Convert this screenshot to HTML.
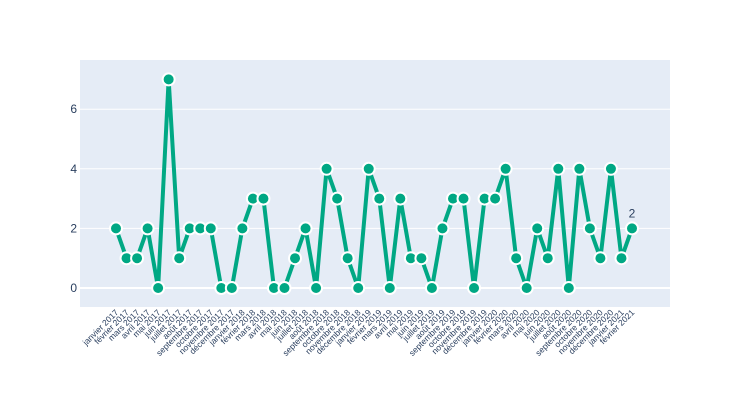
<!DOCTYPE html>
<html><head><meta charset="utf-8"><style>body{margin:0;background:#fff}svg{display:block;font-family:"Liberation Sans",sans-serif}</style></head>
<body>
<svg id="chart" width="750" height="400" xmlns="http://www.w3.org/2000/svg">
<rect x="80" y="60" width="590" height="247" fill="#e5ecf6"/>
<g id="grid"></g><g id="ylabels"></g><g id="xlabels"></g><g id="series"></g>
</svg>
<script>
const months=["janvier","février","mars","avril","mai","juin","juillet","août","septembre","octobre","novembre","décembre"];
const categories=[];
for(let y=2017;y<=2021;y++)for(let m=0;m<12;m++){if(y===2021&&m>1)break;categories.push(months[m]+" "+y);}
const values=[2,1,1,2,0,7,1,2,2,2,0,0,2,3,3,0,0,1,2,0,4,3,1,0,4,3,0,3,1,1,0,2,3,3,0,3,3,4,1,0,2,1,4,0,4,2,1,4,1,2];
const yTicks=[0,2,4,6];
const NS="http://www.w3.org/2000/svg";
const xs=i=>116+i*(632-116)/(categories.length-1);
const ys=v=>288-v*29.8;
function mk(t,a,p){const e=document.createElementNS(NS,t);for(const k in a)e.setAttribute(k,a[k]);document.getElementById(p).appendChild(e);return e;}
yTicks.forEach(t=>{
 const l=mk("line",{x1:80,x2:670,y1:ys(t),y2:ys(t),stroke:"#fff","stroke-width":t===0?2:1},"grid");
 
 
 const tx=mk("text",{x:77,y:ys(t)+4,"text-anchor":"end","font-size":12,fill:"#2a3f5f"},"ylabels");
 tx.textContent=t;
 
 
});
categories.forEach((c,i)=>{
 const tx=mk("text",{x:xs(i)+3,y:313,"text-anchor":"end","font-size":8.5,fill:"#2a3f5f",transform:`rotate(-45 ${xs(i)+3} 313)`},"xlabels");
 tx.textContent=c;
 
 
});
const pl=mk("polyline",{points:values.map((v,i)=>xs(i)+","+ys(v)).join(" "),fill:"none",stroke:"#00a884","stroke-width":4,"stroke-linejoin":"round"},"series");


values.forEach((v,i)=>{
 const c=mk("circle",{cx:xs(i),cy:ys(v),r:6,fill:"#00a884",stroke:"#fff","stroke-width":2},"series");
 
 
});
const last=values.length-1;
const an=mk("text",{x:xs(last),y:ys(values[last])-11,"text-anchor":"middle","font-size":12,fill:"#2a3f5f"},"series");
an.textContent=values[last];


</script>
</body></html>
